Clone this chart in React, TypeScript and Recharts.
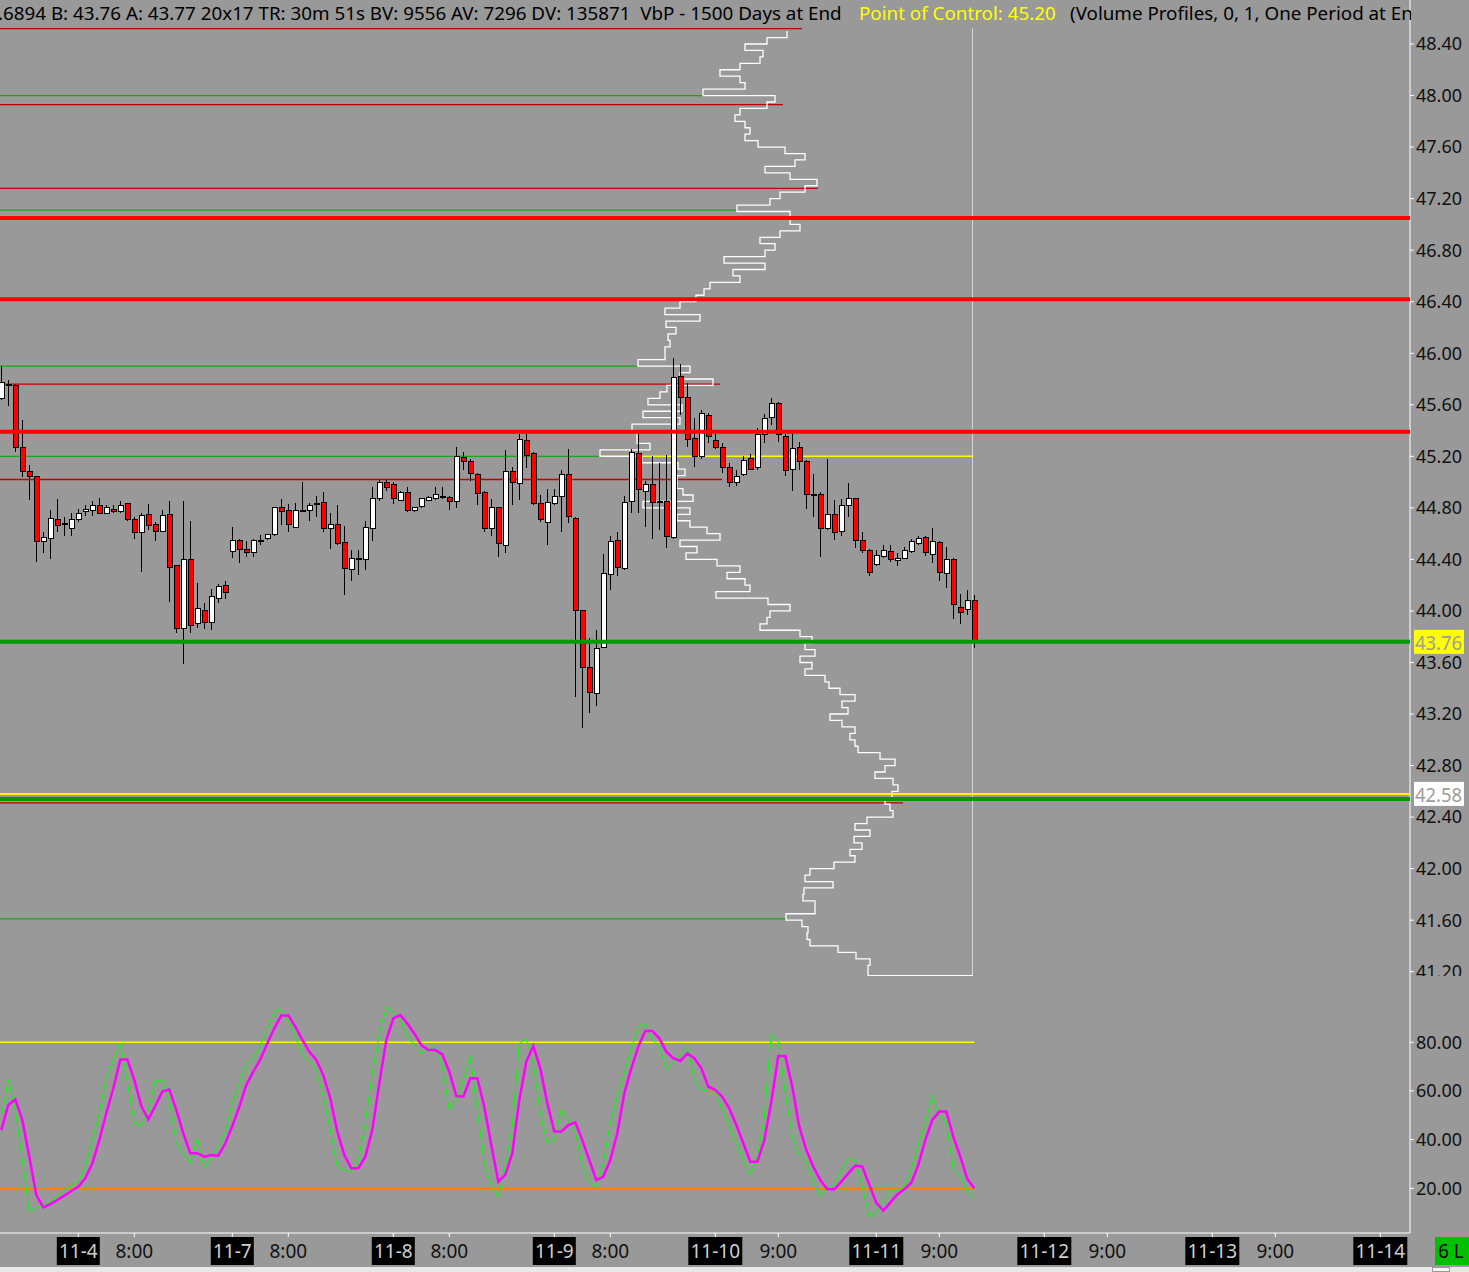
import React from "react";
import { ComposedChart, Bar, Line, XAxis, YAxis, ReferenceLine } from "recharts";

const W = 1469;
const H = 1272;
const PRICE_H = 976;
const AXIS_W = 59;
const VP_W = 973;

// axis ranges
const PRICE_MIN = 41.1668;
const PRICE_MAX = 48.7415;
const X_MIN = -0.186;
const X_MAX = 201.243;
const STOCH_MIN = 1.64;
const STOCH_MAX = 107.19;

const FONT = '"Segoe UI", "Noto Sans", sans-serif';

// 30 minute bars
const opens = [
  45.65, 45.76, 45.75, 45.27, 45.08, 45.04, 44.54, 44.56, 44.71, 44.68,
  44.64, 44.71, 44.77, 44.78, 44.82, 44.76, 44.79, 44.77, 44.83, 44.71,
  44.61, 44.75, 44.67, 44.62, 44.75, 44.35, 43.86, 44.40, 43.90, 44.00,
  43.91, 44.10, 44.20, 44.46, 44.55, 44.48, 44.45, 44.55, 44.56, 44.59,
  44.80, 44.78, 44.65, 44.78, 44.78, 44.83, 44.84, 44.64, 44.67, 44.53,
  44.32, 44.41, 44.40, 44.64, 44.87, 45.00, 44.98, 44.86, 44.92, 44.78,
  44.81, 44.86, 44.87, 44.89, 44.88, 44.85, 45.19, 45.16, 45.06, 44.92,
  44.64, 44.80, 44.51, 45.08, 44.99, 45.32, 45.22, 44.83, 44.69, 44.83,
  44.89, 45.06, 44.72, 44.00, 43.56, 43.36, 43.72, 44.28, 44.55, 44.33,
  44.85, 45.22, 44.93, 44.98, 44.85, 44.85, 44.57, 45.82, 45.66, 45.34,
  45.20, 45.52, 45.32, 45.27, 45.11, 45.00, 45.06, 45.18, 45.11, 45.37,
  45.50, 45.61, 45.35, 45.10, 45.27, 45.16, 44.90, 44.90, 44.64, 44.75,
  44.62, 44.82, 44.87, 44.55, 44.47, 44.36, 44.42, 44.46, 44.39, 44.41,
  44.46, 44.52, 44.57, 44.44, 44.53, 44.29, 44.40, 44.03, 44.01, 44.08,
];
const highs = [
  45.90, 45.79, 45.76, 45.48, 45.13, 45.05, 44.61, 44.78, 44.87, 44.73,
  44.76, 44.79, 44.82, 44.85, 44.88, 44.82, 44.82, 44.85, 44.84, 44.73,
  44.76, 44.83, 44.69, 44.78, 44.85, 44.36, 44.85, 44.70, 44.22, 44.06,
  44.17, 44.21, 44.23, 44.65, 44.56, 44.54, 44.56, 44.59, 44.60, 44.81,
  44.87, 44.83, 44.84, 45.00, 44.84, 44.89, 44.92, 44.76, 44.82, 44.66,
  44.47, 44.47, 44.70, 44.96, 45.02, 45.02, 45.00, 44.93, 44.96, 44.81,
  44.88, 44.89, 44.96, 44.96, 44.89, 45.27, 45.23, 45.18, 45.07, 44.93,
  44.87, 44.81, 45.25, 45.12, 45.37, 45.37, 45.23, 44.90, 44.95, 44.95,
  45.09, 45.26, 44.73, 44.01, 43.79, 43.85, 44.44, 44.58, 44.61, 44.89,
  45.26, 45.37, 45.01, 45.20, 45.15, 45.21, 45.96, 45.92, 45.77, 45.50,
  45.56, 45.54, 45.37, 45.30, 45.15, 45.09, 45.20, 45.22, 45.42, 45.53,
  45.65, 45.62, 45.37, 45.37, 45.31, 45.17, 45.06, 44.92, 45.18, 44.86,
  44.87, 44.99, 44.88, 44.61, 44.48, 44.47, 44.51, 44.51, 44.45, 44.50,
  44.56, 44.58, 44.58, 44.64, 44.54, 44.50, 44.41, 44.13, 44.16, 44.12,
];
const lows = [
  45.64, 45.59, 45.23, 45.04, 44.86, 44.38, 44.45, 44.40, 44.61, 44.58,
  44.58, 44.69, 44.74, 44.74, 44.75, 44.75, 44.76, 44.76, 44.70, 44.56,
  44.30, 44.63, 44.54, 44.61, 44.07, 43.83, 43.59, 43.83, 43.87, 43.86,
  43.85, 44.06, 44.09, 44.41, 44.37, 44.42, 44.42, 44.51, 44.55, 44.58,
  44.67, 44.61, 44.64, 44.77, 44.70, 44.73, 44.61, 44.48, 44.51, 44.12,
  44.23, 44.28, 44.32, 44.54, 44.85, 44.93, 44.83, 44.85, 44.77, 44.77,
  44.80, 44.85, 44.86, 44.87, 44.78, 44.80, 45.09, 45.01, 44.82, 44.61,
  44.58, 44.42, 44.45, 44.82, 44.86, 45.11, 44.82, 44.69, 44.51, 44.82,
  44.61, 44.68, 43.33, 43.09, 43.21, 43.26, 43.71, 44.16, 44.27, 44.32,
  44.76, 44.76, 44.65, 44.56, 44.63, 44.49, 44.56, 45.52, 45.27, 45.12,
  45.18, 45.30, 45.26, 45.07, 44.96, 44.97, 45.05, 45.09, 45.09, 45.30,
  45.44, 45.31, 45.05, 44.93, 45.09, 44.79, 44.73, 44.42, 44.63, 44.55,
  44.58, 44.73, 44.49, 44.45, 44.27, 44.35, 44.41, 44.38, 44.35, 44.40,
  44.45, 44.51, 44.43, 44.37, 44.23, 44.18, 43.94, 43.90, 43.97, 43.71,
];
const closes = [
  45.77, 45.76, 45.27, 45.08, 45.04, 44.54, 44.57, 44.72, 44.66, 44.68,
  44.71, 44.76, 44.79, 44.82, 44.76, 44.80, 44.77, 44.82, 44.71, 44.61,
  44.74, 44.66, 44.62, 44.74, 44.34, 43.86, 44.40, 43.89, 44.02, 43.91,
  44.11, 44.19, 44.14, 44.55, 44.48, 44.45, 44.55, 44.55, 44.59, 44.80,
  44.77, 44.67, 44.78, 44.78, 44.82, 44.83, 44.64, 44.67, 44.52, 44.33,
  44.41, 44.40, 44.65, 44.87, 45.00, 44.96, 44.87, 44.92, 44.78, 44.80,
  44.87, 44.88, 44.90, 44.89, 44.85, 45.20, 45.16, 45.07, 44.91, 44.64,
  44.80, 44.52, 45.08, 45.00, 45.33, 45.21, 44.83, 44.71, 44.84, 44.89,
  45.06, 44.73, 44.00, 43.56, 43.37, 43.71, 44.29, 44.54, 44.34, 44.84,
  45.23, 44.94, 44.98, 44.84, 44.85, 44.58, 45.81, 45.66, 45.33, 45.20,
  45.53, 45.35, 45.27, 45.11, 45.00, 45.04, 45.17, 45.10, 45.37, 45.49,
  45.61, 45.37, 45.09, 45.26, 45.16, 44.90, 44.90, 44.64, 44.75, 44.61,
  44.82, 44.87, 44.55, 44.47, 44.30, 44.43, 44.47, 44.40, 44.41, 44.47,
  44.54, 44.56, 44.45, 44.54, 44.30, 44.40, 44.05, 43.99, 44.08, 43.76,
];

// stochastic %K (green) and %D (magenta)
const stochK = [
  49.4, 64.5, 52.2, 31.6, 10.4, 11.8, 13.1, 14.5, 16.6, 19.3,
  21.1, 22.7, 28.9, 39.8, 50.8, 65.8, 72.7, 79.5, 63.8, 46.7,
  45.6, 52.2, 64.2, 64.2, 56.3, 38.5, 34.4, 30.5, 40.5, 28.2,
  33.0, 37.1, 43.3, 54.9, 63.1, 71.3, 73.4, 78.9, 85.0, 93.2,
  93.2, 89.1, 82.3, 74.7, 72.0, 68.6, 57.6, 43.9, 28.9, 27.5,
  26.8, 31.6, 46.7, 67.2, 83.6, 94.3, 92.5, 89.1, 82.3, 78.9,
  75.4, 77.1, 78.2, 70.0, 52.2, 56.3, 64.5, 74.1, 52.2, 30.2,
  21.3, 16.6, 28.9, 45.3, 79.5, 81.3, 71.3, 50.8, 38.5, 39.8,
  52.2, 48.1, 43.3, 28.9, 22.3, 20.7, 30.2, 46.7, 57.6, 67.2,
  77.5, 86.4, 87.5, 80.9, 78.2, 68.6, 72.0, 74.7, 78.2, 64.5,
  60.4, 59.7, 59.7, 52.2, 45.3, 38.5, 31.6, 25.5, 33.0, 49.4,
  83.6, 80.2, 59.0, 41.2, 33.7, 30.9, 22.7, 16.6, 20.7, 21.3,
  27.5, 32.3, 31.3, 20.7, 8.3, 9.7, 15.2, 18.6, 19.3, 20.7,
  28.2, 37.8, 46.7, 58.3, 49.4, 47.4, 27.5, 24.8, 18.6, 15.9,
];
const stochD = [
  43.9, 54.2, 56.5, 48.1, 33.0, 17.2, 12.2, 13.5, 15.2, 17.0,
  18.9, 20.7, 24.1, 30.2, 39.8, 50.8, 61.1, 72.9, 72.9, 64.5,
  53.8, 48.3, 53.8, 59.7, 60.6, 52.2, 42.6, 34.4, 34.4, 33.0,
  33.7, 33.4, 38.5, 45.6, 53.5, 62.4, 67.9, 72.9, 79.5, 85.7,
  91.0, 91.0, 86.4, 80.9, 76.1, 72.7, 66.5, 56.9, 43.3, 33.7,
  28.2, 28.2, 33.0, 43.9, 63.1, 80.9, 89.8, 91.2, 87.7, 83.6,
  78.8, 76.8, 76.8, 75.0, 67.9, 57.9, 57.6, 65.2, 65.2, 53.5,
  37.8, 22.7, 25.5, 34.4, 56.3, 72.0, 78.4, 69.3, 54.9, 43.3,
  43.3, 46.0, 47.1, 39.8, 31.6, 23.4, 24.8, 31.6, 42.6, 59.0,
  69.3, 78.2, 84.6, 84.6, 81.6, 76.1, 73.4, 72.3, 75.4, 73.4,
  69.3, 61.7, 60.4, 57.6, 52.8, 46.0, 38.5, 30.9, 30.9, 39.8,
  55.6, 74.3, 74.3, 61.7, 45.3, 35.7, 28.9, 23.4, 19.6, 19.6,
  22.7, 26.1, 29.3, 28.9, 21.4, 14.1, 10.8, 14.1, 17.5, 19.6,
  22.3, 29.6, 39.8, 48.1, 51.5, 51.5, 41.2, 33.0, 23.8, 20.0,
];

const priceTicks = [41.2, 41.6, 42.0, 42.4, 42.8, 43.2, 43.6, 44.0, 44.4, 44.8, 45.2, 45.6, 46.0, 46.4, 46.8, 47.2, 47.6, 48.0, 48.4];
const stochTicks = [20, 40, 60, 80];
const timeTickIndex = [11, 19, 33, 41, 56, 64, 79, 87, 102, 111, 125, 134, 149, 158, 173, 182, 197];
const timeTickLabels = ["11-4", "8:00", "11-7", "8:00", "11-8", "8:00", "11-9", "8:00", "11-10", "9:00", "11-11", "9:00", "11-12", "9:00", "11-13", "9:00", "11-14"];

// volume by price, rows of 0.05 from 48.50 down to 41.20
const vpTop = 48.5;
const vpStep = 0.05;
const vpBottom = 41.17;
const vpCeiling = 48.52;
const vpVolume = [
  186, 186, 206, 228, 210, 213, 233, 253, 233, 228,
  270, 198, 206, 233, 238, 228, 223, 228, 215, 188,
  168, 178, 208, 183, 156, 168, 193, 203, 236, 183,
  183, 173, 193, 213, 198, 208, 249, 208, 240, 233,
  263, 269, 277, 293, 308, 273, 307, 297, 305, 303,
  308, 308, 335, 283, 293, 260, 306, 313, 325, 291,
  330, 293, 341, 336, 336, 323, 373, 331, 295, 288,
  296, 296, 290, 280, 330, 283, 296, 283, 266, 253,
  293, 276, 287, 256, 233, 246, 228, 223, 257, 205,
  183, 203, 206, 213, 173, 161, 168, 158, 173, 161,
  168, 148, 144, 133, 118, 131, 125, 143, 131, 118,
  123, 118, 115, 93, 78, 88, 98, 80, 75, 81,
  88, 83, 80, 106, 118, 103, 119, 111, 123, 118,
  139, 163, 168, 140, 169, 170, 158, 158, 187, 171,
  165, 166, 163, 135, 117, 103, 105,
];
const pointOfControl = 45.2;
const pocVolume = 373;

// thin levels drawn up to the profile
const thinLevelPrice = [48.52, 48.0, 47.93, 47.28, 47.11, 45.9, 45.76, 45.2, 45.02, 42.51, 41.61];
const thinLevelKind = ["res", "sup", "res", "res", "sup", "sup", "res", "sup", "res", "res", "sup"];
const thinLevelReach = [171, 270, 190, 155, 237, 336, 253, 373, 251, 70, 187];

// full width levels
const resistance = [47.05, 46.42, 45.39];
const support = [43.76, 42.54];
const lastPrice = 43.76;
const valueLevel = 42.58;

const candles = opens.map((o, i) => ({ i, o, h: highs[i], l: lows[i], c: closes[i] }));
const stoch = stochK.map((k, i) => ({ i, k, d: stochD[i] }));
const vpData = vpVolume.map((v, k) => ({ p: +(vpTop - k * vpStep).toFixed(2), v }));
vpData.push({ p: vpBottom, v: vpVolume[vpVolume.length - 1] });
vpData.push({ p: vpBottom, v: 0 });
const lastIdx = candles[candles.length - 1].i;

function Candle(props: any) {
  const { x, y, width, height, payload } = props;
  if (x == null || !payload) return null;
  const { o, h, l, c } = payload;
  const ratio = height / (h - l);
  const cx = Math.round(x + width / 2) + 0.5;
  const yO = y + (h - o) * ratio;
  const yC = y + (h - c) * ratio;
  const top = Math.min(yO, yC);
  const bh = Math.max(Math.abs(yO - yC), 1);
  const up = c >= o;
  return (
    <g shapeRendering="crispEdges">
      <line x1={cx} x2={cx} y1={y} y2={y + height} stroke="#000" strokeWidth={1} />
      <rect x={cx - 2.5} y={top} width={5} height={bh} fill={up ? "#ffffff" : "#ff0000"} stroke="#000" strokeWidth={1} />
    </g>
  );
}

function PriceTag(props: any) {
  const vb = props.viewBox || {};
  const left = (vb.x ?? 0) + (vb.width ?? 0) + 4;
  const y = vb.y ?? 0;
  return (
    <g>
      <rect x={left} y={y - 12} width={50} height={24} fill={props.bg} />
      <text x={left + 1} y={y + 1} dominantBaseline="central" fontSize={19} fontFamily={FONT} fill="#9d9d9d" textLength={47} lengthAdjust="spacingAndGlyphs">
        {props.text}
      </text>
    </g>
  );
}

function TimeTick(props: any) {
  const { x, y, payload } = props;
  const idx = timeTickIndex.indexOf(payload.value);
  const label = timeTickLabels[idx] ?? "";
  const isDate = label.includes("-");
  const w = label.length * 11 - 1;
  return (
    <g>
      {isDate && <rect x={x - w / 2} y={y - 2} width={w} height={28} fill="#000" />}
      <text x={x} y={y + 12} textAnchor="middle" dominantBaseline="central" fontSize={19} fontFamily={FONT} fill={isDate ? "#cfcfcf" : "#111"}>
        {label}
      </text>
    </g>
  );
}

const levelColor: Record<string, string> = { res: "#c00000", sup: "#1aa61a" };

export default function App() {
  const tickStyle = { fill: "#111", fontSize: 18, fontFamily: FONT };
  return (
    <div style={{ position: "fixed", left: 0, top: 0, width: W, height: H, background: "#999999", overflow: "hidden", fontFamily: FONT }}>
      {/* volume profile and thin levels: x = volume (reversed, anchored at the right edge), y = price */}
      <div style={{ position: "absolute", left: 0, top: 0 }}>
        <ComposedChart width={VP_W} height={PRICE_H} data={vpData} margin={{ top: 0, right: 0, bottom: 0, left: 0 }}>
          <XAxis type="number" dataKey="v" domain={[0, VP_W]} reversed hide allowDataOverflow />
          <YAxis type="number" domain={[PRICE_MIN, PRICE_MAX]} hide allowDataOverflow />
          {thinLevelPrice.map((p, k) => (
            <ReferenceLine
              key={"tl" + k}
              segment={[{ x: VP_W, y: p }, { x: thinLevelReach[k], y: p }]}
              stroke={levelColor[thinLevelKind[k]]}
              strokeWidth={1.3}
              ifOverflow="visible"
            />
          ))}
          <ReferenceLine segment={[{ x: pocVolume, y: pointOfControl }, { x: 0, y: pointOfControl }]} stroke="#ffff00" strokeWidth={1.5} ifOverflow="visible" />
          <ReferenceLine segment={[{ x: 0, y: vpBottom }, { x: 0, y: vpCeiling }]} stroke="#ffffff" strokeWidth={1.2} ifOverflow="visible" />
          <Line dataKey="p" type="stepAfter" stroke="#ffffff" strokeWidth={1.3} dot={false} isAnimationActive={false} />
        </ComposedChart>
      </div>

      {/* candles */}
      <div style={{ position: "absolute", left: 0, top: 0 }}>
        <ComposedChart width={W} height={PRICE_H} data={candles} margin={{ top: 0, right: 0, bottom: 0, left: 0 }}>
          <XAxis type="number" dataKey="i" domain={[X_MIN, X_MAX]} hide allowDataOverflow />
          <YAxis
            orientation="right"
            type="number"
            domain={[PRICE_MIN, PRICE_MAX]}
            allowDataOverflow
            ticks={priceTicks}
            interval={0}
            width={AXIS_W}
            tickSize={4}
            axisLine={{ stroke: "#ffffff" }}
            tickLine={{ stroke: "#ffffff" }}
            tick={tickStyle}
            tickFormatter={(v: number) => v.toFixed(2)}
          />
          <Bar dataKey={(d: any) => [d.l, d.h]} barSize={5} shape={(p: any) => <Candle {...p} />} isAnimationActive={false} />
          {resistance.map((p) => (
            <ReferenceLine key={"r" + p} y={p} stroke="#ff0000" strokeWidth={4} zIndex={1500} />
          ))}
          <ReferenceLine y={valueLevel} stroke="#ffff00" strokeWidth={2} zIndex={1500} label={<PriceTag text={valueLevel.toFixed(2)} bg="#ffffff" />} />
          {support.map((p) => (
            <ReferenceLine
              key={"s" + p}
              y={p}
              stroke="#009a00"
              strokeWidth={4}
              zIndex={1500}
              label={p === lastPrice ? <PriceTag text={lastPrice.toFixed(2)} bg="#ffff00" /> : undefined}
            />
          ))}
        </ComposedChart>
      </div>

      {/* stochastic */}
      <div style={{ position: "absolute", left: 0, top: PRICE_H }}>
        <ComposedChart width={W} height={H - PRICE_H} data={stoch} margin={{ top: 0, right: 0, bottom: 0, left: 0 }}>
          <XAxis
            type="number"
            dataKey="i"
            domain={[X_MIN, X_MAX]}
            allowDataOverflow
            ticks={timeTickIndex}
            interval={0}
            height={39}
            tickSize={4}
            axisLine={{ stroke: "#ffffff" }}
            tickLine={{ stroke: "#ffffff" }}
            tick={<TimeTick />}
          />
          <YAxis
            orientation="right"
            type="number"
            domain={[STOCH_MIN, STOCH_MAX]}
            allowDataOverflow
            ticks={stochTicks}
            interval={0}
            width={AXIS_W}
            tickSize={4}
            axisLine={{ stroke: "#ffffff" }}
            tickLine={{ stroke: "#ffffff" }}
            tick={tickStyle}
            tickFormatter={(v: number) => v.toFixed(2)}
          />
          <ReferenceLine segment={[{ x: X_MIN, y: 80 }, { x: lastIdx, y: 80 }]} stroke="#ffff00" strokeWidth={1.5} ifOverflow="visible" />
          <ReferenceLine segment={[{ x: X_MIN, y: 20 }, { x: lastIdx, y: 20 }]} stroke="#ff8000" strokeWidth={1.5} ifOverflow="visible" />
          <Line dataKey="k" type="linear" stroke="#00ff00" strokeWidth={1} dot={false} isAnimationActive={false} />
          <Line dataKey="d" type="linear" stroke="#ff00ff" strokeWidth={2.5} dot={false} isAnimationActive={false} />
        </ComposedChart>
      </div>

      {/* header */}
      <div style={{ position: "absolute", left: 0, top: 0, width: 1411, height: 27, overflow: "hidden", whiteSpace: "nowrap", fontSize: 18.8, lineHeight: "26px", color: "#000" }}>
        <span style={{ position: "absolute", left: -2 }}>.6894 B: 43.76 A: 43.77 20x17 TR: 30m 51s BV: 9556 AV: 7296 DV: 135871&nbsp;&nbsp;VbP - 1500 Days at End</span>
        <span style={{ position: "absolute", left: 859, color: "#ffff00" }}>Point of Control: 45.20</span>
        <span style={{ position: "absolute", left: 1070 }}>(Volume Profiles, 0, 1, One Period at End</span>
      </div>

      {/* status box and scroll strip */}
      <div style={{ position: "absolute", left: 1435, top: 1237, width: 34, height: 28, background: "#00c000", color: "#000", fontSize: 19, lineHeight: "28px", paddingLeft: 3, boxSizing: "border-box" }}>6 L</div>
      <div style={{ position: "absolute", left: 0, top: 1267, width: W, height: 5, background: "#e8e8e8" }} />
      <div style={{ position: "absolute", left: 1432, top: 1267, width: 18, height: 5, background: "#f6f6f6", border: "1px solid #999", boxSizing: "border-box" }} />
    </div>
  );
}
